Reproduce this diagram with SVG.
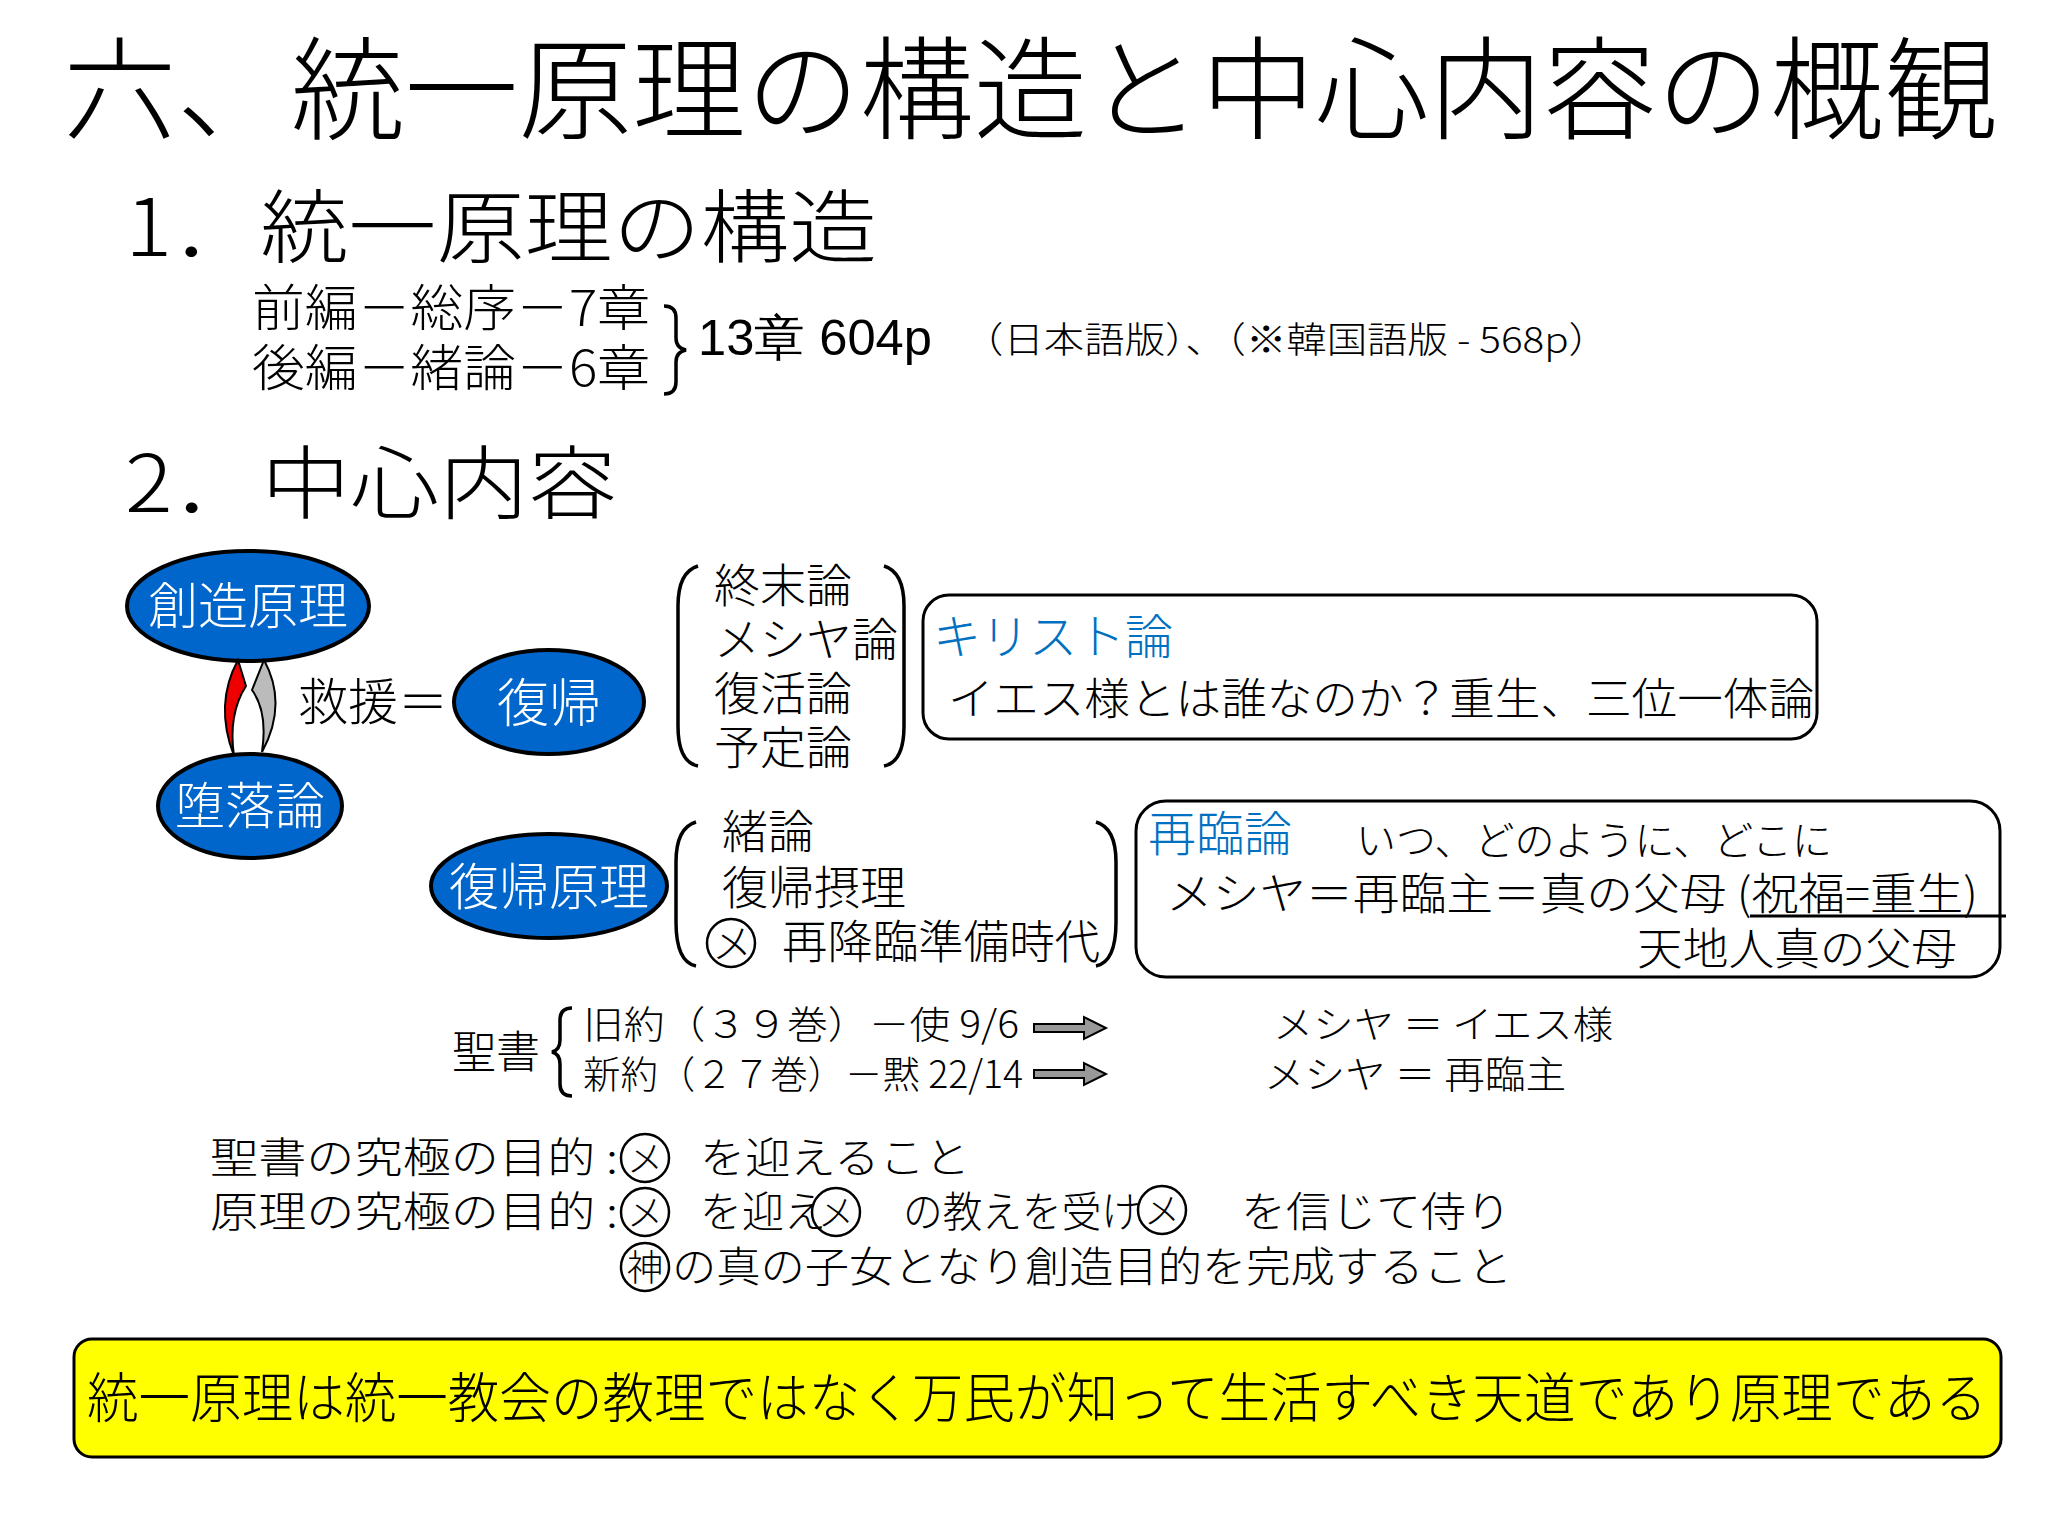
<svg xmlns="http://www.w3.org/2000/svg" width="2048" height="1536" viewBox="0 0 2048 1536">
<defs>
<style>
text{font-family:"Noto Sans CJK JP","Liberation Sans",sans-serif;fill:#000;font-weight:300}
.w{fill:#fff}
.b{fill:#0070c0}
.el{fill:#0066cc;stroke:#000;stroke-width:4}
.ln{fill:none;stroke:#000;stroke-width:3.5}
.box{fill:#fff;stroke:#000;stroke-width:3}
.circ{fill:none;stroke:#000;stroke-width:2.5}
.arr{fill:#999;stroke:#000;stroke-width:2}
.n{font-family:"Liberation Sans",Arial,sans-serif;font-weight:400}
</style>
</defs>
<rect width="2048" height="1536" fill="#fff"/>
<text x="63" y="131" font-size="112" textLength="1935" lengthAdjust="spacingAndGlyphs">六、統一原理の構造と中心内容の概観</text>
<text x="125" y="256" font-size="80" textLength="752" lengthAdjust="spacingAndGlyphs">1．統一原理の構造</text>
<text x="252" y="326" font-size="50" textLength="398" lengthAdjust="spacingAndGlyphs">前編－総序－7章</text>
<text x="252" y="386" font-size="50" textLength="398" lengthAdjust="spacingAndGlyphs">後編－緒論－6章</text>
<path class="ln" d="M664,306 q12,0 12,12 v20 q0,10 10,12 q-10,2 -10,12 v20 q0,12 -12,12"/>
<text class="n" x="698" y="355" font-size="50" textLength="234" lengthAdjust="spacingAndGlyphs">13章 604p</text>
<text x="963" y="353" font-size="36" textLength="646" lengthAdjust="spacingAndGlyphs">（日本語版）、（※韓国語版 - 568p）</text>
<text x="125" y="512" font-size="80" textLength="492" lengthAdjust="spacingAndGlyphs">2．中心内容</text>

<g id="creation"><ellipse class="el" cx="248" cy="606" rx="121" ry="55"/><text class="w" x="248" y="624" font-size="50" text-anchor="middle">創造原理</text></g>
<g id="fall"><ellipse class="el" cx="250" cy="806" rx="92" ry="52"/><text class="w" x="250" y="824" font-size="50" text-anchor="middle">堕落論</text></g>
<g id="restore"><ellipse class="el" cx="549" cy="702" rx="95" ry="52"/><text class="w" x="549" y="722" font-size="52" text-anchor="middle">復帰</text></g>
<g id="restprinciple"><ellipse class="el" cx="549" cy="886" rx="118" ry="52"/><text class="w" x="549" y="905" font-size="50" text-anchor="middle">復帰原理</text></g>

<g id="cycle">
<path d="M238,660 q-24,44 -4,96 q-6,-42 12,-70 z" fill="#e00" stroke="#000" stroke-width="2"/>
<path d="M264,660 q24,44 -2,92 q6,-40 -10,-62 z" fill="#bbb" stroke="#000" stroke-width="2"/>
</g>
<text x="298" y="720" font-size="50" textLength="150" lengthAdjust="spacingAndGlyphs">救援＝</text>

<g id="list1">
<path class="ln" d="M698,566 q-20,6 -20,40 v120 q0,36 20,40"/>
<path class="ln" d="M884,566 q20,6 20,40 v120 q0,36 -20,40"/>
<text x="714" y="602" font-size="46">終末論</text>
<text x="714" y="656" font-size="46">メシヤ論</text>
<text x="714" y="710" font-size="46">復活論</text>
<text x="714" y="764" font-size="46">予定論</text>
</g>
<g id="christology">
<rect class="box" x="923" y="595" width="894" height="144" rx="26"/>
<text class="b" x="933" y="654" font-size="48">キリスト論</text>
<text x="948" y="715" font-size="44" textLength="866" lengthAdjust="spacingAndGlyphs">イエス様とは誰なのか？重生、三位一体論</text>
</g>
<g id="list2">
<path class="ln" d="M696,822 q-20,6 -20,40 v60 q0,40 20,44"/>
<path class="ln" d="M1096,822 q20,6 20,40 v60 q0,40 -20,44"/>
<text x="722" y="848" font-size="46">緒論</text>
<text x="722" y="904" font-size="46">復帰摂理</text>
<circle class="circ" cx="731" cy="943" r="24"/>
<text x="712" y="958" font-size="40">メ</text>
<text x="782" y="958" font-size="46" textLength="318" lengthAdjust="spacingAndGlyphs">再降臨準備時代</text>
</g>
<g id="secondcoming">
<rect class="box" x="1136" y="801" width="864" height="176" rx="30"/>
<text class="b" x="1148" y="851" font-size="48">再臨論</text>
<text x="1356" y="855" font-size="40" textLength="476" lengthAdjust="spacingAndGlyphs">いつ、どのように、どこに</text>
<text x="1166" y="910" font-size="44" textLength="812" lengthAdjust="spacingAndGlyphs">メシヤ＝再臨主＝真の父母 (祝福=重生)</text>
<line x1="1750" y1="916" x2="2006" y2="916" stroke="#000" stroke-width="3"/>
<text x="1637" y="965" font-size="44" textLength="320" lengthAdjust="spacingAndGlyphs">天地人真の父母</text>
</g>
<g id="bible">
<text x="452" y="1068" font-size="44">聖書</text>
<path class="ln" d="M572,1008 q-12,0 -12,12 v20 q0,10 -8,12 q8,2 8,12 v20 q0,12 12,12" stroke-width="3"/>
<text x="583" y="1038" font-size="38" textLength="436" lengthAdjust="spacingAndGlyphs">旧約（３９巻）－使 9/6</text>
<text x="583" y="1088" font-size="38" textLength="440" lengthAdjust="spacingAndGlyphs">新約（２７巻）－黙 22/14</text>
<path class="arr" d="M1034,1024 h50 v-7 l22,11 l-22,11 v-7 h-50 z"/>
<path class="arr" d="M1034,1070 h50 v-7 l22,11 l-22,11 v-7 h-50 z"/>
<text x="1273" y="1038" font-size="38" textLength="340" lengthAdjust="spacingAndGlyphs">メシヤ ＝ イエス様</text>
<text x="1264" y="1088" font-size="38" textLength="302" lengthAdjust="spacingAndGlyphs">メシヤ ＝ 再臨主</text>
</g>
<g id="purpose">
<text x="210" y="1173" font-size="42" textLength="408" lengthAdjust="spacingAndGlyphs">聖書の究極の目的 :</text>
<circle class="circ" cx="645" cy="1158" r="24"/><text x="627" y="1172" font-size="36">メ</text>
<text x="700" y="1173" font-size="42" textLength="270" lengthAdjust="spacingAndGlyphs">を迎えること</text>
<text x="210" y="1227" font-size="42" textLength="408" lengthAdjust="spacingAndGlyphs">原理の究極の目的 :</text>
<circle class="circ" cx="645" cy="1212" r="24"/><text x="627" y="1226" font-size="36">メ</text>
<text x="700" y="1227" font-size="42" textLength="126" lengthAdjust="spacingAndGlyphs">を迎え</text>
<circle class="circ" cx="836" cy="1212" r="24"/><text x="818" y="1226" font-size="36">メ</text>
<text x="903" y="1227" font-size="42" textLength="238" lengthAdjust="spacingAndGlyphs">の教えを受け</text>
<circle class="circ" cx="1162" cy="1210" r="24"/><text x="1144" y="1224" font-size="36">メ</text>
<text x="1241" y="1227" font-size="42" textLength="270" lengthAdjust="spacingAndGlyphs">を信じて侍り</text>
<circle class="circ" cx="645" cy="1267" r="24"/><text x="627" y="1281" font-size="36">神</text>
<text x="672" y="1282" font-size="42" textLength="840" lengthAdjust="spacingAndGlyphs">の真の子女となり創造目的を完成すること</text>
</g>
<g id="banner">
<rect x="74" y="1339" width="1927" height="118" rx="18" fill="#ffff00" stroke="#000" stroke-width="3"/>
<text x="87" y="1418" font-size="54" textLength="1900" lengthAdjust="spacingAndGlyphs">統一原理は統一教会の教理ではなく万民が知って生活すべき天道であり原理である</text>
</g>
</svg>
